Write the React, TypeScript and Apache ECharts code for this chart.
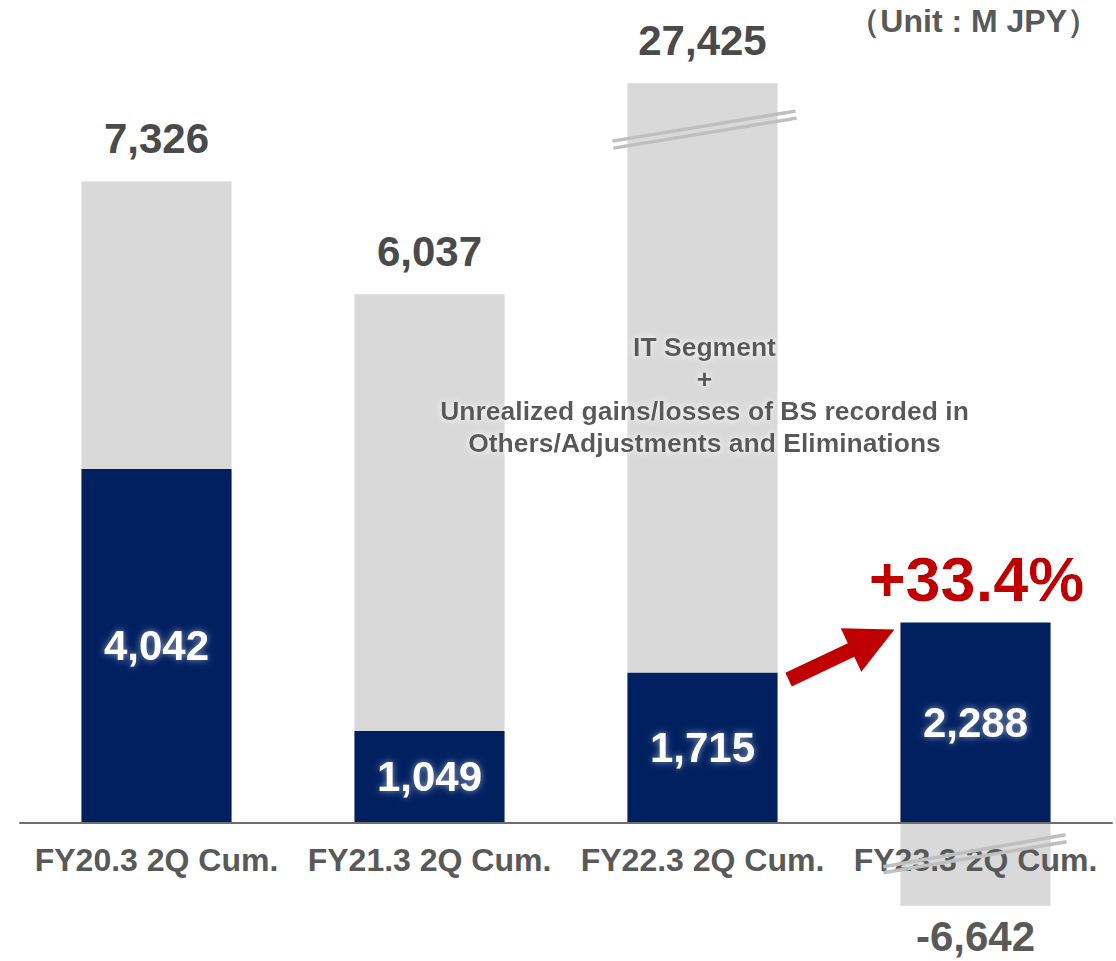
import React, { useEffect, useRef } from 'react';
import * as echarts from 'echarts';

const categories = ['FY20.3 2Q Cum.', 'FY21.3 2Q Cum.', 'FY22.3 2Q Cum.', 'FY23.3 2Q Cum.'];
const itSegment = [4042, 1049, 1715, 2288];
const totals = [7326, 6037, 27425, -6642];
// values beyond these are drawn clipped, with break marks
const breakTop = 8450;
const breakBottom = -950;
const yMin = -1500;
const yMax = 9000;
const growthLabel = '+33.4%';
const unitLabel = '（Unit : M JPY）';
const noteLines = [
  'IT Segment',
  '+',
  'Unrealized gains/losses of BS recorded in',
  'Others/Adjustments and Eliminations',
];

const FONT = '"Liberation Sans", Arial, sans-serif';
const NAVY = '#002060';
const GRAY = '#D9D9D9';
const fmt = (v: number) => v.toLocaleString('en-US');

export default function App() {
  const ref = useRef<HTMLDivElement>(null);
  useEffect(() => {
    document.body.style.margin = '0';
    if (!ref.current) return;
    const chart = echarts.init(ref.current, null, { renderer: 'svg' });

    const grayData = totals.map((t, i) => {
      const v = t >= 0 ? Math.min(t, breakTop) - itSegment[i] : Math.max(t, breakBottom);
      return {
        value: v,
        label: {
          position: t >= 0 ? 'top' : 'bottom',
          distance: t >= 0 ? 22 : 10,
          color: t >= 0 ? '#4A4A4A' : '#595959',
        },
      };
    });

    chart.setOption({
      animation: false,
      grid: {
        left: 20,
        right: 4,
        top: 35,
        bottom: 7,
        containLabel: false,
        outerBoundsMode: 'none',
      },
      xAxis: {
        type: 'category',
        data: categories,
        z: 5,
        offset: 0,
        axisLine: { show: true, onZero: false, lineStyle: { color: '#6E6E6E', width: 2 } },
        axisTick: { show: false },
        axisLabel: {
          interval: 0,
          margin: 21,
          fontSize: 32,
          fontWeight: 'bold',
          fontFamily: FONT,
          color: '#595959',
        },
      },
      yAxis: {
        type: 'value',
        min: yMin,
        max: yMax,
        axisLine: { show: false },
        axisLabel: { show: false },
        axisTick: { show: false },
        splitLine: { show: false },
      },
      series: [
        {
          type: 'bar',
          stack: 'total',
          barWidth: '55%',
          data: itSegment,
          itemStyle: { color: NAVY },
          z: 2,
          label: {
            show: true,
            position: 'inside',
            formatter: (p: any) => fmt(itSegment[p.dataIndex]),
            fontSize: 42,
            fontWeight: 'bold',
            fontFamily: FONT,
            color: '#FFFFFF',
            textShadowColor: 'rgba(255,255,255,0.55)',
            textShadowBlur: 7,
          },
        },
        {
          type: 'bar',
          stack: 'total',
          barWidth: '55%',
          data: grayData,
          itemStyle: { color: GRAY },
          z: 2,
          label: {
            show: true,
            formatter: (p: any) => fmt(totals[p.dataIndex]),
            fontSize: 42,
            fontWeight: 'bold',
            fontFamily: FONT,
          },
        },
      ],
    });

    const px = (i: number, v: number) =>
      chart.convertToPixel({ gridIndex: 0 }, [i, v]) as number[];
    const band = px(1, 0)[0] - px(0, 0)[0];
    const hw = (band * 0.55) / 2;
    const y0 = px(0, 0)[1];
    const yBottom = px(0, yMin)[1];

    const graphics: any[] = [];
    const breakLine = (x1: number, y1: number, x2: number, y2: number) => ({
      type: 'line',
      z: 20,
      shape: { x1, y1, x2, y2 },
      style: { stroke: '#BFBFBF', lineWidth: 3.5 },
    });

    // break marks on clipped bars
    totals.forEach((t, i) => {
      const c = px(i, 0)[0];
      if (t > breakTop) {
        const top = px(i, breakTop)[1];
        graphics.push(breakLine(c - hw - 15, top + 58, c + hw + 18, top + 28));
        graphics.push(breakLine(c - hw - 14, top + 65, c + hw + 19, top + 35));
      } else if (t < breakBottom) {
        graphics.push(breakLine(c - hw - 17, y0 + 44, c + hw + 15, y0 + 12));
        graphics.push(breakLine(c - hw - 17, y0 + 50, c + hw + 16, y0 + 19));
      }
    });

    // arrow from bar 3 to bar 4
    const c3 = px(2, 0)[0];
    const c4 = px(3, 0)[0];
    const T = [c3 + hw + 11, px(2, itSegment[2])[1] + 7];
    const P = [c4 - hw - 6, px(3, itSegment[3])[1] + 7];
    const dx = P[0] - T[0];
    const dy = P[1] - T[1];
    const L = Math.hypot(dx, dy);
    const d = [dx / L, dy / L];
    const n = [-d[1], d[0]];
    const H = [P[0] - d[0] * 48, P[1] - d[1] * 48];
    const sw = 7.5;
    const hwid = 24;
    const pt = (b: number[], k: number) => [b[0] + n[0] * k, b[1] + n[1] * k];
    graphics.push({
      type: 'polygon',
      z: 20,
      shape: {
        points: [pt(T, sw), pt(H, sw), pt(H, hwid), P, pt(H, -hwid), pt(H, -sw), pt(T, -sw)],
      },
      style: { fill: '#C00000' },
    });

    // growth label
    graphics.push({
      type: 'text',
      z: 20,
      x: c4 + 1,
      y: px(3, itSegment[3])[1] - 43,
      style: {
        text: growthLabel,
        fill: '#C00000',
        fontSize: 63,
        fontWeight: 'bold',
        fontFamily: FONT,
        align: 'center',
        verticalAlign: 'middle',
        textShadowColor: 'rgba(255,255,255,0.9)',
        textShadowBlur: 6,
      },
    });

    // note text
    graphics.push({
      type: 'text',
      z: 20,
      x: c3 + 2,
      y: y0 - 428,
      style: {
        text: noteLines.join('\n'),
        fill: '#595959',
        fontSize: 26.5,
        lineHeight: 32,
        fontWeight: 'bold',
        fontFamily: FONT,
        align: 'center',
        verticalAlign: 'middle',
        textShadowColor: '#FFFFFF',
        textShadowBlur: 6,
      },
    });

    // unit label
    graphics.push({
      type: 'text',
      z: 20,
      right: 17,
      top: 5,
      style: {
        text: unitLabel,
        fill: '#595959',
        fontSize: 32,
        fontWeight: 'bold',
        fontFamily: FONT,
      },
    });

    chart.setOption({
      xAxis: { offset: y0 - yBottom },
      graphic: graphics,
    });

    return () => chart.dispose();
  }, []);

  return <div ref={ref} style={{ width: 1116, height: 961 }} />;
}
